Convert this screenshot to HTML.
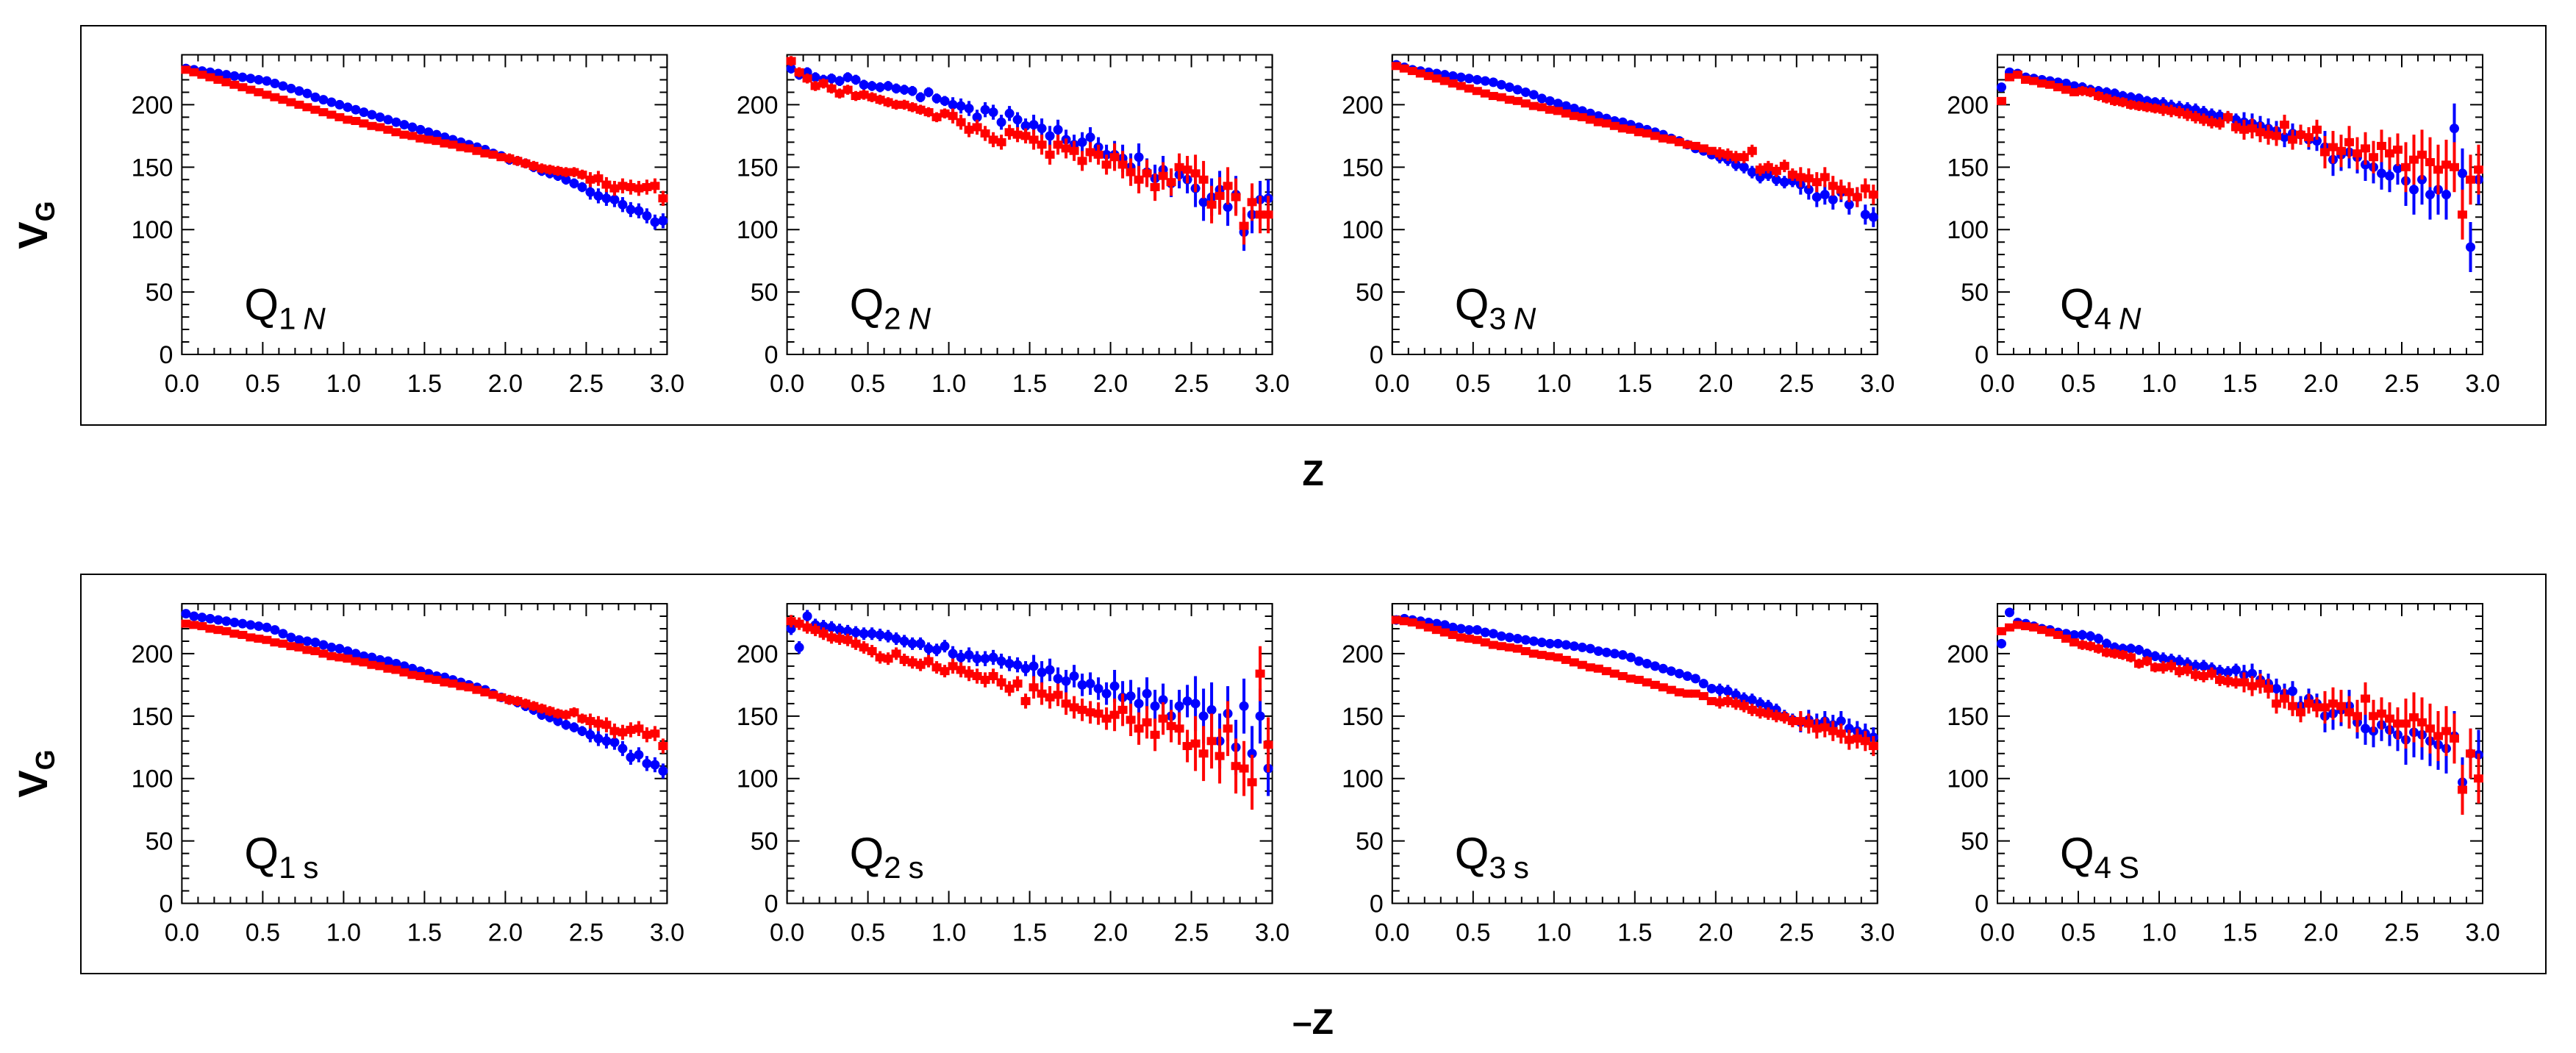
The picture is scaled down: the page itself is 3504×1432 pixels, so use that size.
<!DOCTYPE html>
<html><head><meta charset="utf-8"><style>
html,body{margin:0;padding:0;background:#fff}
svg{display:block}
text{font-family:"Liberation Sans",Arial,sans-serif;fill:#000}
</style></head><body>
<svg id="fig" width="3504" height="1432" viewBox="0 0 3504 1432" xmlns="http://www.w3.org/2000/svg">
<rect x="110" y="35" width="3353" height="543" fill="none" stroke="#000" stroke-width="2"/>
<rect x="110" y="781" width="3353" height="543" fill="none" stroke="#000" stroke-width="2"/>
<text x="1786" y="660" font-size="48" font-weight="bold" text-anchor="middle">Z</text>
<text x="1786" y="1406" font-size="48" font-weight="bold" text-anchor="middle">–Z</text>
<text transform="translate(64,306) rotate(-90)" font-size="56" font-weight="bold" text-anchor="middle">V<tspan font-size="36" dy="10">G</tspan></text>
<text transform="translate(64,1052) rotate(-90)" font-size="56" font-weight="bold" text-anchor="middle">V<tspan font-size="36" dy="10">G</tspan></text>
</svg>
<script>
const xStart = 0.025, xStep = 0.05;
const xTicks = ["0.0","0.5","1.0","1.5","2.0","2.5","3.0"];
const yTicks = ["0","50","100","150","200"];
const panelNames = ["Q1N","Q2N","Q3N","Q4N","Q1s","Q2s","Q3s","Q4s"];
const labelMain = ["1","2","3","4","1","2","3","4"];
const labelSub = ["N","N","N","N","s","s","s","S"];
const subItalic = [true,true,true,true,false,false,false,false];

const q1nBlue = [229,228,227,226,225,224,223,222,221,220,219,217,215,213,211,209,206,204,202,200,198,196,194,192,190,188,186,184,182,180,178,176,174,172,170,168,166,164,161,159,156,155,153,150,147,145,143,140,137,134,130,127,125,124,120,116,115,111,106,107];
const q1nRed = [228,226,224,222,220,218,216,214,212,210,208,206,204,202,200,198,196,194,192,190,188,187,185,183,182,180,178,176,175,173,172,171,169,168,166,165,163,161,160,158,157,155,153,151,149,148,147,146,146,144,140,141,136,133,135,134,133,134,135,125];
const q2nBlue = [229,224,226,222,220,221,219,222,220,216,215,214,215,213,212,211,206,210,205,203,200,199,197,190,196,194,186,193,188,183,184,181,175,180,172,168,170,174,166,160,160,157,150,158,146,141,148,137,144,140,133,122,126,132,118,128,98,112,124,125];
const q2nRed = [235,226,221,215,217,213,209,212,207,208,206,204,202,200,200,198,196,194,190,193,191,186,180,182,177,172,170,178,176,175,172,168,160,168,165,163,155,162,160,152,158,152,146,140,145,134,143,138,150,148,145,140,120,127,135,126,103,122,112,112];
const q3nBlue = [232,230,228,227,226,225,224,223,222,221,220,219,218,216,214,212,210,208,205,203,201,199,197,195,193,191,189,187,186,184,182,180,178,176,173,171,168,165,163,160,158,156,152,150,146,142,144,140,138,139,136,132,126,128,124,130,120,126,112,110];
const q3nRed = [231,229,227,225,223,221,219,217,215,213,211,209,207,206,204,203,201,199,198,196,195,193,191,190,188,186,185,183,181,180,178,177,175,173,172,170,168,167,165,163,161,160,158,158,163,148,150,147,151,144,142,141,138,142,135,132,130,126,133,128];
const q4nBlue = [214,226,225,222,221,220,219,218,217,215,214,212,211,210,209,207,206,205,203,202,201,199,198,197,196,194,192,191,190,188,186,185,183,181,179,174,177,176,172,171,166,156,160,162,158,152,150,145,143,149,139,132,140,128,132,128,181,145,86,140];
const q4nRed = [203,222,224,220,219,217,216,214,212,210,211,210,207,205,203,202,200,199,198,197,196,195,194,192,190,188,186,185,190,182,180,181,178,176,175,184,172,176,174,180,162,166,163,170,161,165,158,167,161,164,150,156,160,154,148,152,150,112,140,148];
const q1sBlue = [232,230,229,228,227,226,225,224,223,222,221,219,216,213,211,210,209,207,205,204,202,200,198,197,195,194,192,190,188,186,184,182,181,179,177,175,173,171,168,165,163,161,158,155,151,149,146,143,141,138,135,132,130,129,124,117,119,112,111,106];
const q1sRed = [224,223,222,220,219,218,216,215,213,212,211,209,208,206,205,203,202,200,198,197,196,194,193,191,190,188,187,185,183,182,180,179,177,176,174,173,171,169,167,165,163,162,160,158,156,154,152,151,153,148,146,144,143,138,137,139,140,135,136,126];
const q2sBlue = [220,205,230,223,222,221,219,218,217,216,216,215,214,212,210,208,208,204,203,206,200,197,199,196,196,197,194,192,191,188,190,185,187,180,178,182,175,176,172,168,174,165,166,160,168,158,163,150,158,162,160,150,155,130,152,125,158,120,150,108];
const q2sRed = [226,224,221,219,216,213,212,211,208,205,202,197,196,200,195,193,191,194,189,186,190,187,184,182,179,182,177,172,176,162,173,168,165,167,160,157,155,153,152,148,151,155,147,140,145,135,148,142,140,126,128,120,130,118,140,110,108,97,184,127];
const q3sBlue = [227,228,227,226,225,224,223,221,220,219,219,217,216,214,213,212,211,210,209,208,208,207,206,205,204,202,201,200,199,197,194,192,190,188,186,184,182,180,176,172,171,170,167,164,163,160,158,155,150,147,145,147,144,146,143,146,140,138,136,133];
const q3sRed = [227,226,225,223,221,219,217,215,213,212,211,209,207,206,205,204,202,200,199,198,197,195,193,191,189,188,186,184,182,180,179,177,175,173,171,169,168,168,166,162,161,162,160,158,155,153,152,150,149,146,146,144,140,141,138,136,131,132,130,126];
const q4sBlue = [208,233,225,224,222,220,219,217,216,215,215,214,212,208,205,204,204,203,200,198,196,195,194,192,190,190,188,186,185,187,183,184,179,176,172,168,170,158,164,160,150,152,155,158,145,140,138,143,139,135,131,137,135,130,127,124,134,97,120,119];
const q4sRed = [218,221,223,222,221,219,217,215,212,209,207,206,204,201,200,199,197,192,194,189,189,190,186,187,183,182,184,179,178,177,177,174,176,172,160,164,158,153,160,157,157,160,158,153,150,164,150,152,148,144,144,149,145,140,134,138,132,91,120,100];

// error bar half-widths per 0.5-wide bin
const errQ1 = [2,2,2,3,4,6];
const errQ2 = [4,4,6,8,11,15];
const errQ3 = [2,2,3,3,5,8];
const errQ4 = [3,4,5,8,13,20];
const errQ2s = [5,5,6,9,13,22];

const blueSeries = [q1nBlue,q2nBlue,q3nBlue,q4nBlue,q1sBlue,q2sBlue,q3sBlue,q4sBlue];
const redSeries = [q1nRed,q2nRed,q3nRed,q4nRed,q1sRed,q2sRed,q3sRed,q4sRed];
const errSeries = [errQ1,errQ2,errQ3,errQ4,errQ1,errQ2s,errQ3,errQ4];

const NS = "http://www.w3.org/2000/svg";
const svg = document.getElementById("fig");
const PW = 660, PH = 407.5, YMAX = 240, XMAX = 3;
function mk(tag, attrs, parent){const e=document.createElementNS(NS,tag);for(const k in attrs)e.setAttribute(k,attrs[k]);parent.appendChild(e);return e;}

panelNames.forEach((name, p) => {
  const col = p % 4, row = Math.floor(p / 4);
  const L = 247.4 + col * 823.2, T = 74.5 + row * 746.5;
  const sx = v => L + v / XMAX * PW;
  const sy = v => T + PH - v / YMAX * PH;
  const g = mk("g", {}, svg);
  
  
  const frame = mk("rect", {x:L, y:T, width:PW, height:PH, fill:"none", stroke:"#000", "stroke-width":2}, g);
  
  
  let d = "";
  for (let i = 0; i <= 30; i++) {
    const x = sx(i * 0.1), len = (i % 5 === 0) ? 17 : 9;
    d += `M${x},${T+PH}v${-len}M${x},${T}v${len}`;
  }
  for (let i = 0; i <= 24; i++) {
    const y = sy(i * 10), len = (i % 5 === 0) ? 17 : 10;
    d += `M${L},${y}h${len}M${L+PW},${y}h${-len}`;
  }
  const ticks = mk("path", {d:d, stroke:"#000", "stroke-width":2, fill:"none"}, g);
  
  
  xTicks.forEach((t) => {
    const tx = mk("text", {x:sx(parseFloat(t)), y:T+PH+51, "font-size":34, "text-anchor":"middle"}, g);
    tx.textContent = t;
    
    
  });
  yTicks.forEach((t) => {
    const ty = mk("text", {x:L-12, y:sy(parseFloat(t))+12, "font-size":34, "text-anchor":"end"}, g);
    ty.textContent = t;
    
    
  });
  const draw = (vals, color, isBlue) => {
    const sg = mk("g", {fill:color, stroke:color}, g);
    
    
    vals.forEach((v, i) => {
      const xv = xStart + i * xStep;
      const e = errSeries[p][Math.min(5, Math.floor(xv / 0.5))];
      const cx = sx(xv), cy = sy(v);
      const bar = mk("line", {x1:cx, x2:cx, y1:sy(v+e), y2:sy(v-e), "stroke-width":4}, sg);
      
      
      let m;
      if (isBlue) m = mk("circle", {cx:cx, cy:cy, r:6.5, stroke:"none"}, sg);
      else m = mk("rect", {x:cx-6.5, y:cy-5.5, width:13, height:11, stroke:"none"}, sg);
      
      
    });
  };
  draw(blueSeries[p], "#0000ff", true);
  draw(redSeries[p], "#ff0000", false);
  const lab = mk("text", {x:L+85, y:T+360, "font-size":60}, g);
  
  
  const t1 = mk("tspan", {}, lab); t1.textContent = "Q";
  const t2 = mk("tspan", {"font-size":42, dy:13}, lab); t2.textContent = labelMain[p];
  const t3 = mk("tspan", {"font-size":42, dx:10}, lab); t3.textContent = labelSub[p];
  if (subItalic[p]) t3.setAttribute("font-style", "italic");
});
</script>
</body></html>
